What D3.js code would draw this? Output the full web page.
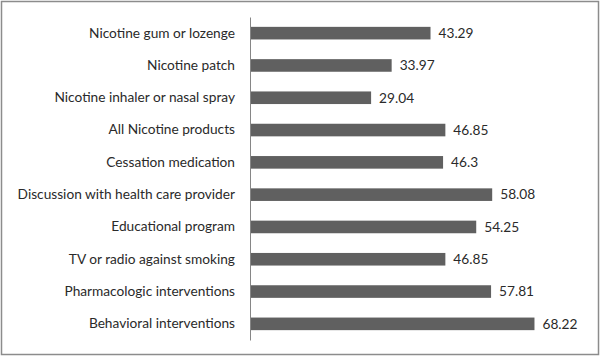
<!DOCTYPE html>
<html>
<head>
<meta charset="utf-8">
<script src="https://cdn.jsdelivr.net/npm/d3@7"></script>
<style>
  body { margin: 0; background: #fff; }
  text { font-family: Lato, "Open Sans", sans-serif; fill: #2a2a2a; }
</style>
</head>
<body>
<div id="chart"></div>
<script>
// Categories (top to bottom) and values
const categories = [
  "Nicotine gum or lozenge",
  "Nicotine patch",
  "Nicotine inhaler or nasal spray",
  "All Nicotine products",
  "Cessation medication",
  "Discussion with health care provider",
  "Educational program",
  "TV or radio against smoking",
  "Pharmacologic interventions",
  "Behavioral interventions"
];
const values = [43.29, 33.97, 29.04, 46.85, 46.3, 58.08, 54.25, 46.85, 57.81, 68.22];
const valueLabels = ["43.29", "33.97", "29.04", "46.85", "46.3", "58.08", "54.25", "46.85", "57.81", "68.22"];

const W = 600, H = 356;
const margin = { top: 17, right: 16, bottom: 16, left: 250 };
const width = W - margin.left - margin.right,
      height = H - margin.top - margin.bottom;

const svg = d3.select("#chart")
  .append("svg")
    .attr("width", W)
    .attr("height", H);

// chart border
svg.append("rect")
  .attr("x", 1.5).attr("y", 1.5)
  .attr("width", W - 3).attr("height", H - 3)
  .attr("fill", "#fff")
  .attr("stroke", "#8c8c8c")
  .attr("stroke-width", 1.5);

const g = svg.append("g")
  .attr("transform", `translate(${margin.left},${margin.top})`);

const x = d3.scaleLinear()
  .domain([0, 80])
  .range([0, 333.6]);

const y = d3.scaleBand()
  .domain(categories)
  .range([0, height])
  .paddingInner(0.61)
  .paddingOuter(0.305);

// bars
g.selectAll(".bar")
  .data(values)
  .enter().append("rect")
  .attr("class", "bar")
  .attr("x", 0)
  .attr("y", (d, i) => y(categories[i]))
  .attr("width", d => x(d))
  .attr("height", y.bandwidth())
  .attr("fill", "#606060");

// category axis
const yAxis = g.append("g")
  .call(d3.axisLeft(y).tickSize(0).tickPadding(15));
yAxis.select(".domain").attr("stroke", "#868686").attr("stroke-width", 1);
yAxis.selectAll("text")
  .style("font-size", "13.7px")
  .style("font-family", "Lato, 'Open Sans', sans-serif")
  .attr("fill", "#2a2a2a");

// value labels
g.selectAll(".val")
  .data(values)
  .enter().append("text")
  .attr("class", "val")
  .attr("x", d => x(d) + 8)
  .attr("y", (d, i) => y(categories[i]) + y.bandwidth() / 2)
  .attr("dy", "0.35em")
  .style("font-size", "13.7px")
  .text((d, i) => valueLabels[i]);
</script>
</body>
</html>
